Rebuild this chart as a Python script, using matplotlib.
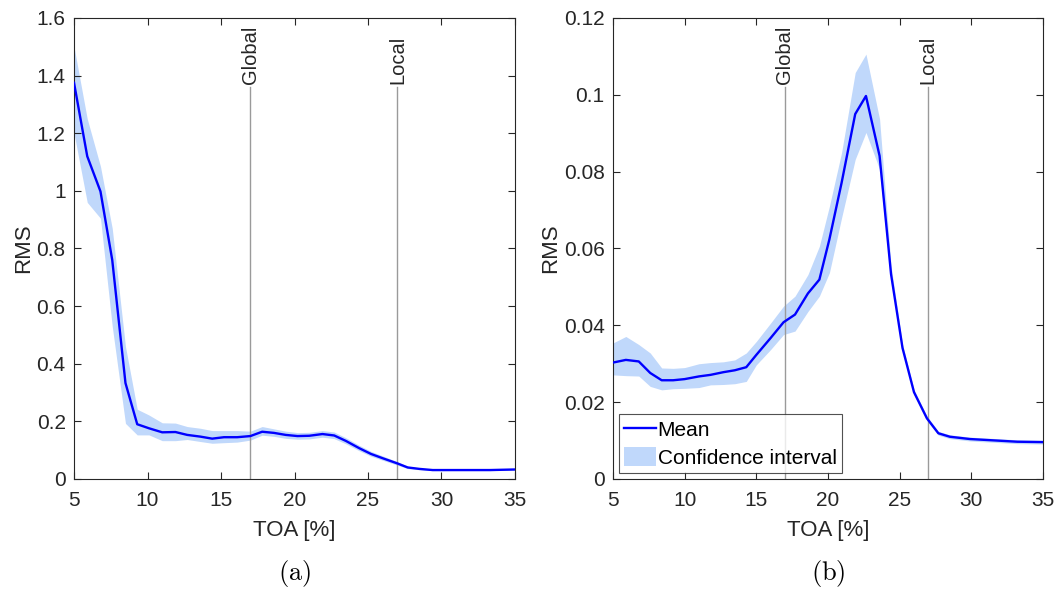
import matplotlib
matplotlib.use("Agg")
import matplotlib.pyplot as plt
from matplotlib.patches import Patch
from matplotlib.lines import Line2D

plt.rcParams['font.family'] = ['Liberation Sans', 'DejaVu Sans']
plt.rcParams['mathtext.fontset'] = 'cm'

# Panel (a): RMS mean and confidence band versus TOA
toa_a = [5.0, 5.9, 6.8, 7.6, 8.5, 9.3, 10.1, 11.0, 11.9, 12.7, 13.6, 14.4, 15.2,
         16.1, 17.0, 17.8, 18.6, 19.4, 20.2, 21.0, 21.9, 22.7, 23.5, 24.4, 25.2,
         26.0, 27.0, 27.7, 28.5, 29.4, 31.0, 33.3, 35.0]
mean_a = [1.375, 1.12, 0.998, 0.76, 0.333, 0.19, 0.176, 0.162, 0.163, 0.153, 0.147,
          0.140, 0.145, 0.145, 0.149, 0.164, 0.160, 0.153, 0.149, 0.150, 0.156,
          0.151, 0.132, 0.107, 0.087, 0.072, 0.054, 0.040, 0.035, 0.031, 0.031,
          0.031, 0.033]
low_a = [1.20, 0.96, 0.905, 0.53, 0.193, 0.153, 0.153, 0.133, 0.133, 0.137, 0.130,
         0.124, 0.126, 0.128, 0.135, 0.152, 0.148, 0.141, 0.138, 0.139, 0.145,
         0.140, 0.122, 0.098, 0.079, 0.065, 0.048, 0.036, 0.032, 0.029, 0.029,
         0.029, 0.031]
high_a = [1.50, 1.25, 1.085, 0.87, 0.46, 0.242, 0.222, 0.195, 0.194, 0.182, 0.176,
          0.168, 0.168, 0.168, 0.166, 0.182, 0.174, 0.166, 0.161, 0.162, 0.168,
          0.163, 0.143, 0.117, 0.096, 0.080, 0.060, 0.044, 0.038, 0.033, 0.033,
          0.033, 0.035]

# Panel (b)
toa_b = [5.0, 5.9, 6.8, 7.6, 8.4, 9.2, 10.0, 11.0, 11.8, 12.7, 13.5, 14.3, 15.0,
         16.0, 16.9, 17.7, 18.6, 19.4, 20.1, 20.95, 21.9, 22.65, 23.6, 24.4, 25.2,
         26.0, 26.9, 27.7, 28.5, 29.9, 31.8, 33.2, 35.0]
mean_b = [0.0303, 0.0310, 0.0306, 0.0276, 0.0257, 0.0257, 0.0260, 0.0267, 0.0271,
          0.0278, 0.0283, 0.0291, 0.0323, 0.0367, 0.0408, 0.0428, 0.0483, 0.0519,
          0.0624, 0.0771, 0.0950, 0.0997, 0.0841, 0.0533, 0.0341, 0.0226, 0.0158,
          0.0119, 0.0110, 0.0104, 0.0100, 0.0097, 0.0096]
low_b = [0.0271, 0.0269, 0.0268, 0.0241, 0.0232, 0.0235, 0.0236, 0.0238, 0.0245,
         0.0246, 0.0248, 0.0254, 0.0297, 0.0337, 0.0376, 0.0385, 0.0436, 0.0476,
         0.0537, 0.0680, 0.0832, 0.0902, 0.0806, 0.0515, 0.0333, 0.0219, 0.0152,
         0.0114, 0.0105, 0.0099, 0.0095, 0.0092, 0.0091]
high_b = [0.0354, 0.0371, 0.0350, 0.0328, 0.0289, 0.0288, 0.0290, 0.0300, 0.0303,
          0.0305, 0.0310, 0.0328, 0.0358, 0.0406, 0.0450, 0.0476, 0.0532, 0.0606,
          0.0710, 0.0850, 0.1058, 0.1106, 0.0937, 0.0555, 0.0350, 0.0233, 0.0164,
          0.0124, 0.0115, 0.0109, 0.0105, 0.0102, 0.0101]

marker_pos = [17, 27]
marker_names = ['Global', 'Local']

yticks_a = [0, 0.2, 0.4, 0.6, 0.8, 1.0, 1.2, 1.4, 1.6]
ytick_labels_a = ['0', '0.2', '0.4', '0.6', '0.8', '1', '1.2', '1.4', '1.6']
yticks_b = [0, 0.02, 0.04, 0.06, 0.08, 0.10, 0.12]
ytick_labels_b = ['0', '0.02', '0.04', '0.06', '0.08', '0.1', '0.12']
xticks = [5, 10, 15, 20, 25, 30, 35]

LINE_BLUE = '#0000ff'
BAND = '#c0d8fb'
AXC = '#262626'
FS = 15

fig = plt.figure(figsize=(10.59, 5.92), dpi=100)
ax_a = fig.add_axes([0.0699, 0.1909, 0.4164, 0.7787])
ax_b = fig.add_axes([0.5788, 0.1909, 0.4061, 0.7787])


def draw_panel(ax, x, m, lo, hi, ymax, yt, ytl, marker_top, caption):
    ax.fill_between(x, lo, hi, color=BAND, linewidth=0, zorder=1)
    ax.plot(x, m, color=LINE_BLUE, linewidth=1.7, zorder=3)
    for pos, name in zip(marker_pos, marker_names):
        ax.plot([pos, pos], [0, marker_top], color='#9a9a9a', linewidth=1.0, zorder=2)
        ax.text(pos, marker_top + ymax * 0.006, name, rotation=90, ha='center',
                va='bottom', fontsize=FS - 0.5, color='#262626')
    ax.set_xlim(5, 35)
    ax.set_ylim(0, ymax)
    ax.set_xticks(xticks)
    ax.set_xticklabels([str(t) for t in xticks], fontsize=FS, color=AXC)
    ax.set_yticks(yt)
    ax.set_yticklabels(ytl, fontsize=FS, color=AXC)
    ax.tick_params(direction='in', top=True, right=True, length=5, width=0.8,
                   colors=AXC, labelcolor=AXC, pad=6)
    ax.tick_params(axis='x', pad=9)
    for s in ax.spines.values():
        s.set_color(AXC)
        s.set_linewidth(0.8)
    ax.set_xlabel('TOA [%]', fontsize=FS + 1, color=AXC, labelpad=7)
    ax.set_ylabel('RMS', fontsize=FS + 1, color=AXC, labelpad=2)
    ax.text(0.5, -0.205, caption, transform=ax.transAxes, ha='center', va='center',
            fontsize=FS + 4, color='black')


draw_panel(ax_a, toa_a, mean_a, low_a, high_a, 1.6, yticks_a, ytick_labels_a,
           1.362, r'$\mathrm{(a)}$')
draw_panel(ax_b, toa_b, mean_b, low_b, high_b, 0.12, yticks_b, ytick_labels_b,
           0.102, r'$\mathrm{(b)}$')

handles = [Line2D([0], [0], color=LINE_BLUE, linewidth=1.7),
           Patch(facecolor=BAND, edgecolor='none')]
leg = ax_b.legend(handles, ['Mean', 'Confidence interval'], loc='lower left',
                  bbox_to_anchor=(0.0, 0.0), fontsize=FS, frameon=True, fancybox=False,
                  handlelength=1.5, handleheight=1.0, handletextpad=0.1, borderpad=0.25,
                  labelspacing=0.35, borderaxespad=0.3)
leg.get_frame().set_edgecolor(AXC)
leg.get_frame().set_linewidth(0.8)
for t in leg.get_texts():
    t.set_color('black')

fig.savefig('out.png', dpi=100)
